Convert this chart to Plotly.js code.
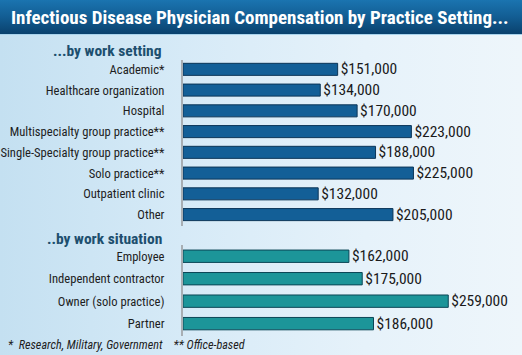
<!DOCTYPE html>
<html><head><meta charset="utf-8">
<script src="https://cdn.plot.ly/plotly-3.0.1.min.js"></script>
<style>
html,body{margin:0;padding:0;}
body{width:522px;height:355px;overflow:hidden;position:relative;
 background:linear-gradient(90deg,#c4e0f1 0%,#d6eaf7 35%,#e6f2fa 70%,#eef6fb 100%);}
#band{position:absolute;left:0;top:0;width:522px;height:34px;
 background:linear-gradient(180deg,#1b74b0 0%,#125d93 50%,#0a416d 100%);border-bottom:1px solid #a9d3ec;}
#chart{position:absolute;left:0;top:0;width:522px;height:355px;}
</style></head><body><div id="band"></div><div id="chart"></div>
<script>
const chartTitle = "Infectious Disease Physician Compensation by Practice Setting...";
const settingHeader = "...by work setting";
const situationHeader = "..by work situation";
const footnote = "*  Research, Military, Government    ** Office-based";

const settingCategories = ["Academic*", "Healthcare organization", "Hospital",
  "Multispecialty group practice**", "Single-Specialty group practice**",
  "Solo practice**", "Outpatient clinic", "Other"];
const settingValues = [151000, 134000, 170000, 223000, 188000, 225000, 132000, 205000];

const situationCategories = ["Employee", "Independent contractor", "Owner (solo practice)", "Partner"];
const situationValues = [162000, 175000, 259000, 186000];

const W = 522, H = 355;
const fy = p => 1 - p / H;
const FAM = "Roboto Condensed, DejaVu Sans Condensed, sans-serif";
const labelFont = {family: FAM, size: 12.6, color: "#1e1e1e"};
const valueFont = {family: FAM, size: 15.5, color: "#1a1a1a"};

const traces = [
  {type: "bar", orientation: "h", x: settingValues, y: settingCategories,
   xaxis: "x", yaxis: "y", width: 0.58,
   marker: {color: "#135f97", line: {color: "#0b3558", width: 1}},
   texttemplate: "$%{x:,.0f}", textposition: "outside", cliponaxis: false,
   constraintext: "none", textfont: valueFont, hoverinfo: "skip"},
  {type: "bar", orientation: "h", x: situationValues, y: situationCategories,
   xaxis: "x", yaxis: "y2", width: 0.55,
   marker: {color: "#1c9599", line: {color: "#0b4656", width: 1}},
   texttemplate: "$%{x:,.0f}", textposition: "outside", cliponaxis: false,
   constraintext: "none", textfont: valueFont, hoverinfo: "skip"}
];

const yCommon = {
  type: "category", showgrid: false, zeroline: false,
  showline: true, linecolor: "#a8aeb3", linewidth: 2,
  tickfont: labelFont, ticks: "", ticklabelstandoff: 14, fixedrange: true
};

const layout = {
  width: W, height: H,
  margin: {l: 0, r: 0, t: 0, b: 0},
  paper_bgcolor: "rgba(0,0,0,0)", plot_bgcolor: "rgba(0,0,0,0)",
  showlegend: false, bargap: 0.4,
  title: {text: chartTitle, x: 0.021, xanchor: "left", xref: "paper",
    y: fy(17), yref: "container", yanchor: "middle",
    font: {family: FAM, size: 19, color: "#ffffff", weight: "bold"}},
  xaxis: {domain: [183 / W, 1], range: [0, 331000], visible: false, fixedrange: true},
  yaxis: Object.assign({}, yCommon, {domain: [fy(226), fy(60)], range: [7.55, -0.45]}),
  yaxis2: Object.assign({}, yCommon, {domain: [fy(336), fy(245)], range: [3.55, -0.5], anchor: "x"}),
  annotations: [
    {text: "<b>" + settingHeader + "</b>", xref: "paper", yref: "paper", x: 164 / W, y: fy(51),
     xanchor: "right", yanchor: "middle", showarrow: false,
     font: {family: FAM, size: 15.5, color: "#1d4f6e"}},
    {text: "<b>" + situationHeader + "</b>", xref: "paper", yref: "paper", x: 164 / W, y: fy(239),
     xanchor: "right", yanchor: "middle", showarrow: false,
     font: {family: FAM, size: 15.5, color: "#1d4f6e"}},
    {text: "<i>" + footnote.replace(/ {2,}/g, m => "&nbsp;".repeat(m.length)) + "</i>", xref: "paper", yref: "paper", x: 6 / W, y: fy(345),
     xanchor: "left", yanchor: "middle", showarrow: false,
     font: {family: FAM, size: 12.2, color: "#1e1e1e"}}
  ]
};

Plotly.newPlot("chart", traces, layout, {staticPlot: true, displayModeBar: false});
</script></body></html>
